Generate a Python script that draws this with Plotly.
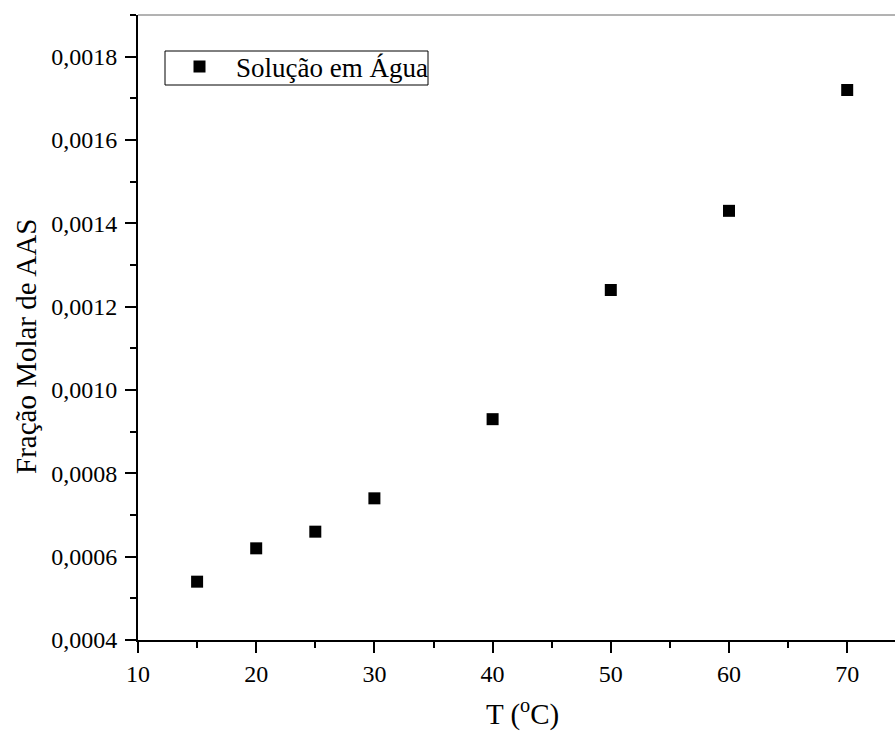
import plotly.graph_objects as go

temperature_c = [15, 20, 25, 30, 40, 50, 60, 70]
molar_fraction = [0.00054, 0.00062, 0.00066, 0.00074, 0.00093, 0.00124, 0.00143, 0.00172]
series_name = "Solução em Água"
x_title = "T (<sup>o</sup>C)"
y_title = "Fração Molar de AAS"

FONT = "Liberation Serif"
W, H = 895, 733
L, T = 138, 15
B = H - 640
R = 0
plot_w = W - L - R
plot_h = H - T - B


def px(xr):
    return (xr - L) / plot_w


def py(yr):
    return (640 - yr) / plot_h


fig = go.Figure()
fig.add_trace(go.Scatter(
    x=temperature_c, y=molar_fraction, mode="markers", name=series_name,
    marker=dict(symbol="square", size=12, color="black", line=dict(width=0)),
))

fig.update_layout(
    width=W, height=H,
    margin=dict(l=L, r=R, t=T, b=B, pad=0),
    paper_bgcolor="white", plot_bgcolor="white",
    separators=",.",
    font=dict(family=FONT, color="black", size=24),
    showlegend=True,
    legend=dict(
        x=px(163), y=py(67), xanchor="left", yanchor="middle",
        borderwidth=0, bgcolor="rgba(0,0,0,0)",
        font=dict(family=FONT, size=27, color="black"),
        itemwidth=63,
    ),
)

fig.update_xaxes(
    range=[10, 10 + plot_w / 11.82],
    tickmode="linear", tick0=10, dtick=10,
    ticks="outside", ticklen=11, tickwidth=2, tickcolor="black",
    minor=dict(ticks="outside", ticklen=6, tickwidth=2, tickcolor="black", dtick=5, tick0=10),
    showline=True, linecolor="black", linewidth=2,
    showgrid=False, zeroline=False,
    tickfont=dict(family=FONT, size=24, color="black"),
)
fig.update_yaxes(
    range=[0.0004, 0.0019],
    tickmode="linear", tick0=0.0004, dtick=0.0002, tickformat=".4f",
    ticks="outside", ticklen=11, tickwidth=2, tickcolor="black",
    minor=dict(ticks="outside", ticklen=6, tickwidth=2, tickcolor="black", dtick=0.0001, tick0=0.0004),
    showline=True, linecolor="black", linewidth=2,
    showgrid=False, zeroline=False,
    ticklabelstandoff=3,
    tickfont=dict(family=FONT, size=24, color="black"),
)

# top frame line
fig.add_shape(type="line", xref="paper", yref="paper", x0=0, x1=1, y0=1, y1=1,
              line=dict(color="#666666", width=1))
# legend frame
fig.add_shape(type="rect", xref="paper", yref="paper",
              x0=px(165), x1=px(428), y0=py(85), y1=py(51),
              line=dict(color="black", width=1), fillcolor="rgba(0,0,0,0)")

# axis titles
fig.add_annotation(text=x_title, xref="paper", yref="paper",
                   x=px(522), y=py(712), xanchor="center", yanchor="middle",
                   showarrow=False,
                   font=dict(family=FONT, size=29, color="black"))
fig.add_annotation(text=y_title, xref="paper", yref="paper",
                   x=px(26), y=py(346), xanchor="center", yanchor="middle",
                   textangle=-90, showarrow=False,
                   font=dict(family=FONT, size=29, color="black"))

fig.write_html(
    "out.html",
    config={"displayModeBar": False},
    post_script="document.body.style.margin='0';document.body.style.padding='0';"
                "document.body.style.overflow='hidden';"
                "document.documentElement.style.overflow='hidden';",
)
